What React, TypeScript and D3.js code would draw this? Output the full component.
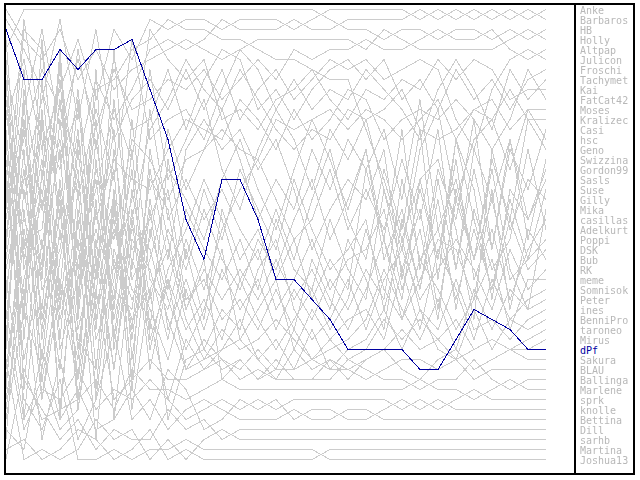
import React from "react";
import * as d3 from "d3";

// Legend order = final ranking
const names = ["Anke","Barbaros","HB","Holly","Altpap","Julicon","Froschi","Tachymet","Kai","FatCat42","Moses","Kralizec","Casi","hsc","Geno","Swizzina","Gordon99","Sasls","Suse","Gilly","Mika","casillas","Adelkurt","Poppi","DSK","Bub","RK","meme","Somnisok","Peter","ines","BenniPro","taroneo","Mirus","dPf","Sakura","BLAU","Ballinga","Marlene","sprk","knolle","Bettina","Dill","sarhb","Martina","Joshua13"];
const highlighted = "dPf";

// rank per round (31 rounds)
const anke = [12,6,15,9,4,10,3,6,2,3,2,2,3,2,2,2,3,2,1,1,1,1,1,2,1,2,1,2,1,2,1];
const barbaros = [20,14,7,11,16,8,12,9,5,4,5,4,2,3,3,3,2,3,3,2,2,2,2,1,2,1,2,1,2,1,2];
const hb = [5,1,1,1,1,1,1,1,1,1,1,1,1,1,1,1,1,1,2,3,3,4,3,3,4,3,3,4,3,4,3];
const holly = [1,4,6,3,8,5,9,7,6,5,4,5,6,5,4,4,4,4,4,4,5,3,4,5,5,5,5,5,4,3,4];
const altpap = [22,11,3,13,6,13,7,11,10,8,9,7,10,8,6,8,5,6,5,5,4,5,5,4,3,4,4,3,5,6,5];
const julicon = [27,18,10,2,12,3,14,10,8,11,7,11,7,12,9,7,10,8,6,7,6,8,7,6,7,12,15,9,6,5,6];
const froschi = [9,20,13,17,5,15,6,13,12,7,13,8,5,6,11,9,12,9,7,6,8,6,10,8,11,7,10,8,11,8,7];
const tachymet = [15,25,18,7,20,11,18,4,14,12,11,14,9,5,7,11,8,11,9,10,7,9,11,14,9,6,9,13,7,10,8];
const kai = [34,9,21,14,25,19,11,16,3,6,8,6,12,11,13,10,9,7,10,12,9,10,8,9,6,8,6,7,10,9,9];
const fatcat42 = [2,5,9,16,11,22,16,18,19,15,12,13,14,10,12,15,11,14,12,9,10,14,12,11,12,10,12,15,12,7,10];
const moses = [7,16,25,10,27,17,24,14,16,20,16,15,13,15,16,12,13,12,11,13,11,12,14,12,10,14,11,10,13,11,11];
const kralizec = [25,3,5,22,9,26,20,22,13,10,6,9,11,7,10,13,15,13,14,11,12,11,9,13,14,13,11,12,9,12,12];
const casi = [11,26,16,31,14,28,10,25,22,17,20,24,18,14,19,23,17,12,16,21,15,24,13,27,17,22,12,25,15,19,13];
const hsc = [30,12,28,6,32,14,27,20,7,18,14,10,17,21,15,11,14,19,13,16,12,19,25,15,11,20,14,12,17,11,14];
const geno = [19,31,4,24,18,33,15,28,24,13,19,15,11,16,22,18,21,15,19,14,17,13,20,10,23,18,26,16,22,12,15];
const swizzina = [37,23,33,19,35,21,30,12,28,31,24,29,23,19,16,20,24,22,17,23,19,23,16,22,13,27,15,20,14,24,16];
const gordon99 = [6,34,12,34,15,31,22,33,17,26,15,12,15,13,17,14,19,25,21,18,20,15,28,19,26,14,19,30,19,22,17];
const sasls = [39,19,31,12,30,7,34,19,30,23,27,21,26,29,24,27,22,18,24,20,15,26,21,29,18,27,17,25,14,22,18];
const suse = [13,32,8,29,10,30,5,27,11,22,18,22,19,23,26,21,26,20,15,22,26,17,23,13,28,14,22,29,20,26,19];
const gilly = [24,7,34,21,38,16,31,15,33,16,26,19,24,17,21,25,18,23,27,25,22,31,24,18,16,23,32,15,23,18,20];
const mika = [41,28,20,41,22,39,21,34,20,29,21,25,28,24,29,22,27,29,22,27,30,19,27,21,31,20,26,17,27,31,21];
const casillas = [18,36,26,15,40,24,37,24,27,34,25,32,21,26,23,28,24,30,26,29,17,24,30,18,26,16,28,23,30,25,22];
const adelkurt = [32,15,40,26,17,37,19,38,15,24,31,27,30,27,30,26,30,27,31,24,28,33,22,29,20,31,21,27,24,15,23];
const poppi = [8,39,17,35,28,12,35,21,35,27,23,18,22,28,25,31,28,24,29,26,25,21,29,23,32,19,26,20,28,26,24];
const dsk = [44,21,36,18,33,25,13,36,21,33,28,33,27,31,28,33,29,32,28,31,27,30,18,26,23,30,23,29,22,27,25];
const bub = [14,42,24,37,19,40,25,30,26,19,30,28,32,30,33,29,33,26,30,33,29,24,32,28,24,25,30,19,31,23,26];
const rk = [35,10,38,28,36,20,42,26,31,36,29,35,31,33,27,24,31,34,32,28,33,28,25,30,27,24,27,31,25,29,27];
const meme = [21,2,14,42,21,34,28,17,34,28,33,30,34,28,32,35,32,29,33,30,23,29,32,26,29,33,30,26,33,28,28];
const somnisok = [29,17,32,20,41,27,17,39,23,30,35,31,25,34,31,28,35,31,34,32,31,34,27,33,25,29,34,28,32,30,29];
const peter = [4,27,19,32,24,44,26,32,29,25,32,36,33,35,34,32,34,36,35,34,32,27,31,34,30,35,29,33,29,31,30];
const ines = [26,13,29,25,13,32,23,29,32,40,34,37,35,32,36,34,37,33,37,35,34,31,35,31,33,28,33,32,34,32,31];
const bennipro = [16,30,11,30,26,18,32,23,25,32,37,34,36,37,35,37,33,36,34,36,35,32,34,32,34,36,31,35,32,33,32];
const taroneo = [23,22,27,5,29,23,29,31,18,21,31,26,38,36,38,36,38,38,36,37,36,35,33,35,34,32,35,34,35,34,33];
const mirus = [10,24,23,8,31,9,8,5,4,2,3,3,4,4,5,6,6,7,8,8,13,18,24,31,35,36,35,34,35,35,34];
const dpf = [3,8,8,5,7,5,5,4,9,14,22,26,18,18,22,28,28,30,32,35,35,35,35,37,37,34,31,32,33,35,35];
const sakura = [38,24,40,29,38,26,37,22,37,28,37,36,35,34,36,38,35,37,36,38,36,35,37,38,36,35,37,36,35,36,36];
const blau = [42,31,37,23,34,37,20,41,29,42,36,35,37,36,38,37,37,36,37,37,38,37,36,36,37,36,38,37,37,37,37];
const ballinga = [31,42,38,43,41,29,40,38,36,38,38,37,36,38,37,38,38,38,38,36,37,38,38,39,38,38,36,38,39,38,38];
const marlene = [46,37,42,41,40,38,41,37,39,39,40,39,38,39,39,39,39,39,39,39,39,39,39,38,39,39,40,39,38,39,39];
const sprk = [33,43,39,40,37,41,39,40,38,40,42,41,40,41,40,41,40,40,40,40,40,40,41,40,41,40,39,40,40,40,40];
const knolle = [43,45,35,42,39,43,42,39,42,37,39,43,42,40,41,40,42,41,41,42,42,41,40,41,40,41,41,41,41,41,41];
const bettina = [40,29,44,36,44,40,33,42,40,43,41,40,41,42,42,42,41,42,42,41,41,42,42,42,42,42,42,42,42,42,42];
const dill = [17,38,41,44,42,45,43,44,44,41,43,42,44,43,43,43,43,43,43,43,43,43,43,43,43,43,43,43,43,43,43];
const sarhb = [36,46,45,46,45,42,44,43,46,44,46,44,43,44,44,44,44,44,44,44,44,44,44,44,44,44,44,44,44,44,44];
const martina = [45,44,46,45,43,44,46,45,43,46,45,46,46,46,46,46,46,46,45,45,45,45,45,45,45,45,45,45,45,45,45];
const joshua13 = [28,40,43,38,46,46,45,46,45,45,44,45,45,45,45,45,45,45,46,46,46,46,46,46,46,46,46,46,46,46,46];

const series = [anke,barbaros,hb,holly,altpap,julicon,froschi,tachymet,kai,fatcat42,moses,kralizec,casi,hsc,geno,swizzina,gordon99,sasls,suse,gilly,mika,casillas,adelkurt,poppi,dsk,bub,rk,meme,somnisok,peter,ines,bennipro,taroneo,mirus,dpf,sakura,blau,ballinga,marlene,sprk,knolle,bettina,dill,sarhb,martina,joshua13];

const GREY = "#cccccc";
const BLUE = "#0000a0";

export default function App() {
  const x = d3.scaleLinear().domain([0, 30]).range([6, 546]);
  const y = d3.scaleLinear().domain([1, names.length]).range([9.5, 459.5]);
  const line = d3.line<number>().x((_, i) => x(i)).y((d) => y(d));
  const legendY = d3.scaleLinear().domain([0, names.length - 1]).range([14, 464]);

  const order = names.map((n, i) => i).sort((a, b) => (names[a] === highlighted ? 1 : 0) - (names[b] === highlighted ? 1 : 0));

  return (
    <div style={{ position: "fixed", left: 0, top: 0, width: 640, height: 480, background: "#fff" }}>
      <svg width={640} height={480} style={{ display: "block" }}>
        <rect x={0} y={0} width={640} height={480} fill="#ffffff" />
        <g shapeRendering="crispEdges" fill="none">
          {order.map((i) => (
            <path
              key={names[i]}
              d={line(series[i]) || ""}
              stroke={names[i] === highlighted ? BLUE : GREY}
              strokeWidth={1}
            />
          ))}
        </g>
        <g fontFamily="'DejaVu Sans Mono', monospace" fontSize={10} style={{ filter: "grayscale(1)" }}>
          {names.map((n, i) =>
            n === highlighted ? null : (
              <text key={n} x={580} y={legendY(i)} fill="#b8b8b8">
                {n}
              </text>
            )
          )}
        </g>
        <g fontFamily="'DejaVu Sans Mono', monospace" fontSize={10}>
          {names.map((n, i) =>
            n === highlighted ? (
              <text key={n} x={580} y={legendY(i)} fill={BLUE}>
                {n}
              </text>
            ) : null
          )}
        </g>
        <g fill="#000" shapeRendering="crispEdges">
          <rect x={4} y={3} width={631} height={2} />
          <rect x={4} y={473} width={631} height={2} />
          <rect x={4} y={3} width={2} height={472} />
          <rect x={574} y={3} width={2} height={472} />
          <rect x={633} y={3} width={2} height={472} />
        </g>
      </svg>
    </div>
  );
}
